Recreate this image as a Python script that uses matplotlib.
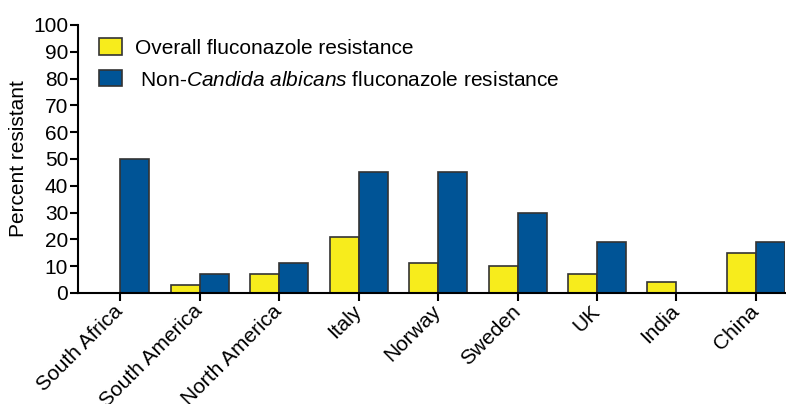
import numpy as np
import matplotlib
matplotlib.use('Agg')
import matplotlib.pyplot as plt
from matplotlib.patches import Patch

plt.rcParams['font.family'] = ['Liberation Sans', 'DejaVu Sans']
plt.rcParams['mathtext.fontset'] = 'custom'
plt.rcParams['mathtext.rm'] = 'Liberation Sans'
plt.rcParams['mathtext.it'] = 'Liberation Sans:italic'

# data
regions = ['South Africa', 'South America', 'North America', 'Italy', 'Norway',
           'Sweden', 'UK', 'India', 'China']
overall = [0, 3, 7, 21, 11, 10, 7, 4, 15]
non_albicans = [50, 7, 11, 45, 45, 30, 19, 0, 19]

yellow = '#F7EC1C'
blue = '#005496'
edge = '#333333'

fig = plt.figure(figsize=(7.86, 4.04), dpi=100)
ax = fig.add_axes([0.0992, 0.2748, 0.9, 0.6634])

x = np.arange(len(regions))
w = 0.365
ax.bar(x - w / 2, overall, width=w, color=yellow, edgecolor=edge, linewidth=1.2)
ax.bar(x + w / 2, non_albicans, width=w, color=blue, edgecolor=edge, linewidth=1.2)

ax.set_xlim(-0.53, 8.37)
ax.set_ylim(0, 100)
ax.set_yticks(range(0, 101, 10))
ax.set_xticks(x)
ax.set_xticklabels(regions, rotation=45, ha='right', va='center',
                   rotation_mode='anchor', fontsize=15)
ax.tick_params(axis='y', labelsize=15, length=6, width=1.5, pad=1)
ax.tick_params(axis='x', length=6, width=1.5, pad=5)
ax.set_ylabel('Percent resistant', fontsize=15)
ax.yaxis.set_label_coords(-0.071, 0.5)

for s in ['top', 'right']:
    ax.spines[s].set_visible(False)
for s in ['left', 'bottom']:
    ax.spines[s].set_linewidth(1.5)

handles = [Patch(facecolor=yellow, edgecolor=edge, linewidth=1.2),
           Patch(facecolor=blue, edgecolor=edge, linewidth=1.2)]
labels = ['Overall fluconazole resistance',
          r' Non-$\it{Candida\ albicans}$ fluconazole resistance']
ax.legend(handles, labels, loc='upper left', bbox_to_anchor=(0.030, 0.95),
          frameon=False, fontsize=15, handlelength=1.1, handleheight=0.82,
          handletextpad=0.6, labelspacing=0.6, borderpad=0, borderaxespad=0)

fig.savefig('out.png', dpi=100)
